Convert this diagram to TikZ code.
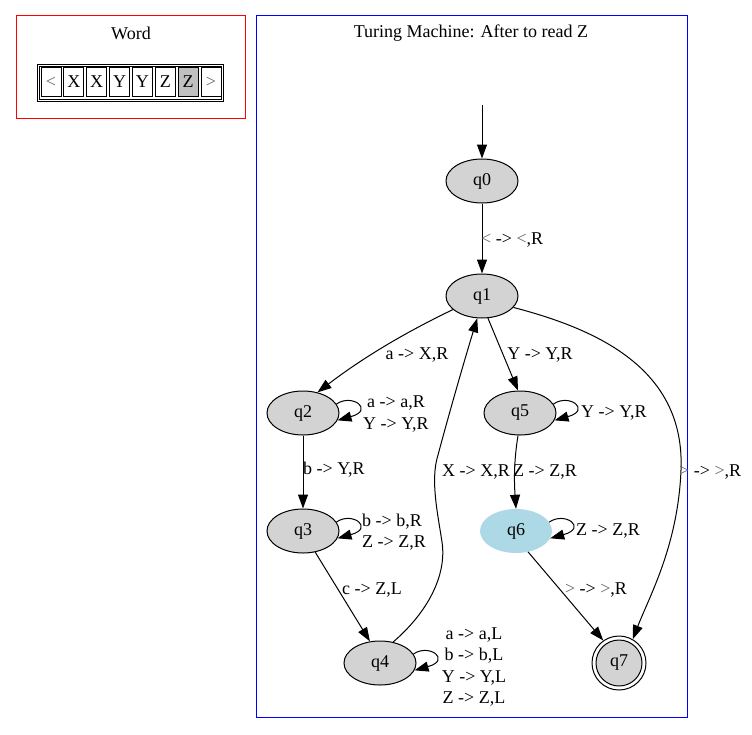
\documentclass[tikz,border=0pt]{standalone}
\usepackage{fontspec}
\setmainfont{Liberation Serif}
\usetikzlibrary{arrows.meta,shapes.geometric}
\definecolor{stategray}{HTML}{D3D3D3}
\definecolor{lblue}{HTML}{ADD8E6}
\definecolor{cellgray}{HTML}{C0C0C0}
\newcommand{\lsym}{{\color{black!60}<}}
\newcommand{\gsym}{{\color{black!60}>}}
\begin{document}
\begin{tikzpicture}[x=1pt,y=-1pt,
  every node/.style={font=\fontsize{18}{21.5}\selectfont, inner sep=0pt},
  state/.style={ellipse, draw, line width=1pt, fill=stategray, minimum width=72pt, minimum height=44pt},
  edge/.style={line width=1pt, -{Triangle[length=14pt,width=10pt]}},
  lbl/.style={align=left},
  cell/.style={draw, line width=1pt, minimum width=20pt, minimum height=29pt, fill=white}
]
\useasboundingbox (0,0) rectangle (752,734);
% Word frame
\draw[red, line width=1pt] (16,15) rectangle (245,118);
\node (wordtitle) at (131,33) {Word};
\draw[line width=1pt] (37,64) rectangle (223,101);
\draw[line width=1pt] (39,66) rectangle (221,99);
\foreach \i/\t/\f in {0/\lsym/white,1/X/white,2/X/white,3/Y/white,4/Y/white,5/Z/white,6/Z/cellgray,7/\gsym/white}{
  \node[cell, fill=\f] (c\i) at ({51+\i*22.86},82) {\t};
}
% TM frame
\draw[blue, line width=1pt] (256,15) rectangle (687,717);
\node (tmtitle) at (471,33) {Turing Machine: After to read Z};
% states
\coordinate (start) at (482,105);
\node[state] (q0) at (482,181) {q0};
\node[state] (q1) at (482,296) {q1};
\node[state] (q2) at (303,413) {q2};
\node[state] (q3) at (303,531) {q3};
\node[state] (q4) at (380,663) {q4};
\node[state] (q5) at (520,413) {q5};
\node[ellipse, fill=lblue, minimum width=72pt, minimum height=44pt] (q6) at (516,531) {q6};
\node[circle, draw, line width=1pt, minimum size=54pt] (q7) at (619,663) {};
\node[circle, draw, line width=1pt, fill=stategray, minimum size=46pt] (q7in) at (q7) {q7};
% edges
\draw[edge] (start) -- (q0);
\draw[edge] (q0) -- (q1);
\node[anchor=west] (l01) at (481,240) {\lsym{} -> \lsym,R};
\draw[edge] (q1.205) .. controls (400,335) and (360,360) .. (q2.55);
\node (l12) at (417,355) {a -> X,R};
\draw[edge] (q2.15) .. controls (352,393) and (375,410) .. (q2.-12);
\node[lbl, anchor=west] (l22) at (363,414) {\hspace*{4pt}a -> a,R\\Y -> Y,R};
\draw[edge] (q2) -- (q3);
\node[anchor=west] (l23) at (303,470) {b -> Y,R};
\draw[edge] (q3.15) .. controls (352,511) and (375,528) .. (q3.-12);
\node[lbl, anchor=west] (l33) at (362,532) {b -> b,R\\Z -> Z,R};
\draw[edge] (q3.-60) -- (q4.115);
\node (l34) at (372,590) {c -> Z,L};
\draw[edge] (q4.58) .. controls (428,612) and (447,575) .. (442,542)
   .. controls (438,515) and (430,480) .. (438,455)
   .. controls (450,410) and (466,355) .. (q1.258);
\node (l41) at (476,472) {X -> X,R};
\draw[edge] (q4.15) .. controls (429,643) and (452,660) .. (q4.-12);
\node[align=center] (l44) at (474,667) {a -> a,L\\b -> b,L\\Y -> Y,L\\Z -> Z,L};
\draw[edge] (q1.-75) -- (q5.95);
\node (l15) at (540,355) {Y -> Y,R};
\draw[edge] (q5.15) .. controls (569,393) and (592,410) .. (q5.-12);
\node[anchor=west] (l55) at (581,413) {Y -> Y,R};
\draw[edge] (q5.-95) .. controls (514,460) and (514,480) .. (q6.90);
\node[anchor=west] (l56) at (513,472) {Z -> Z,R};
\draw[edge] (q6.15) .. controls (565,511) and (588,528) .. (q6.-12);
\node[anchor=west] (l66) at (576,531) {Z -> Z,R};
\draw[edge] (q6.-60) -- (q7.125);
\node (l67) at (596,590) {\gsym{} -> \gsym,R};
\draw[edge] (q1.-20) .. controls (600,330) and (685,370) .. (681,470)
   .. controls (678,545) and (650,595) .. (q7.60);
\node[anchor=west] (l17) at (679,472) {\gsym{} -> \gsym,R};
\end{tikzpicture}
\end{document}
